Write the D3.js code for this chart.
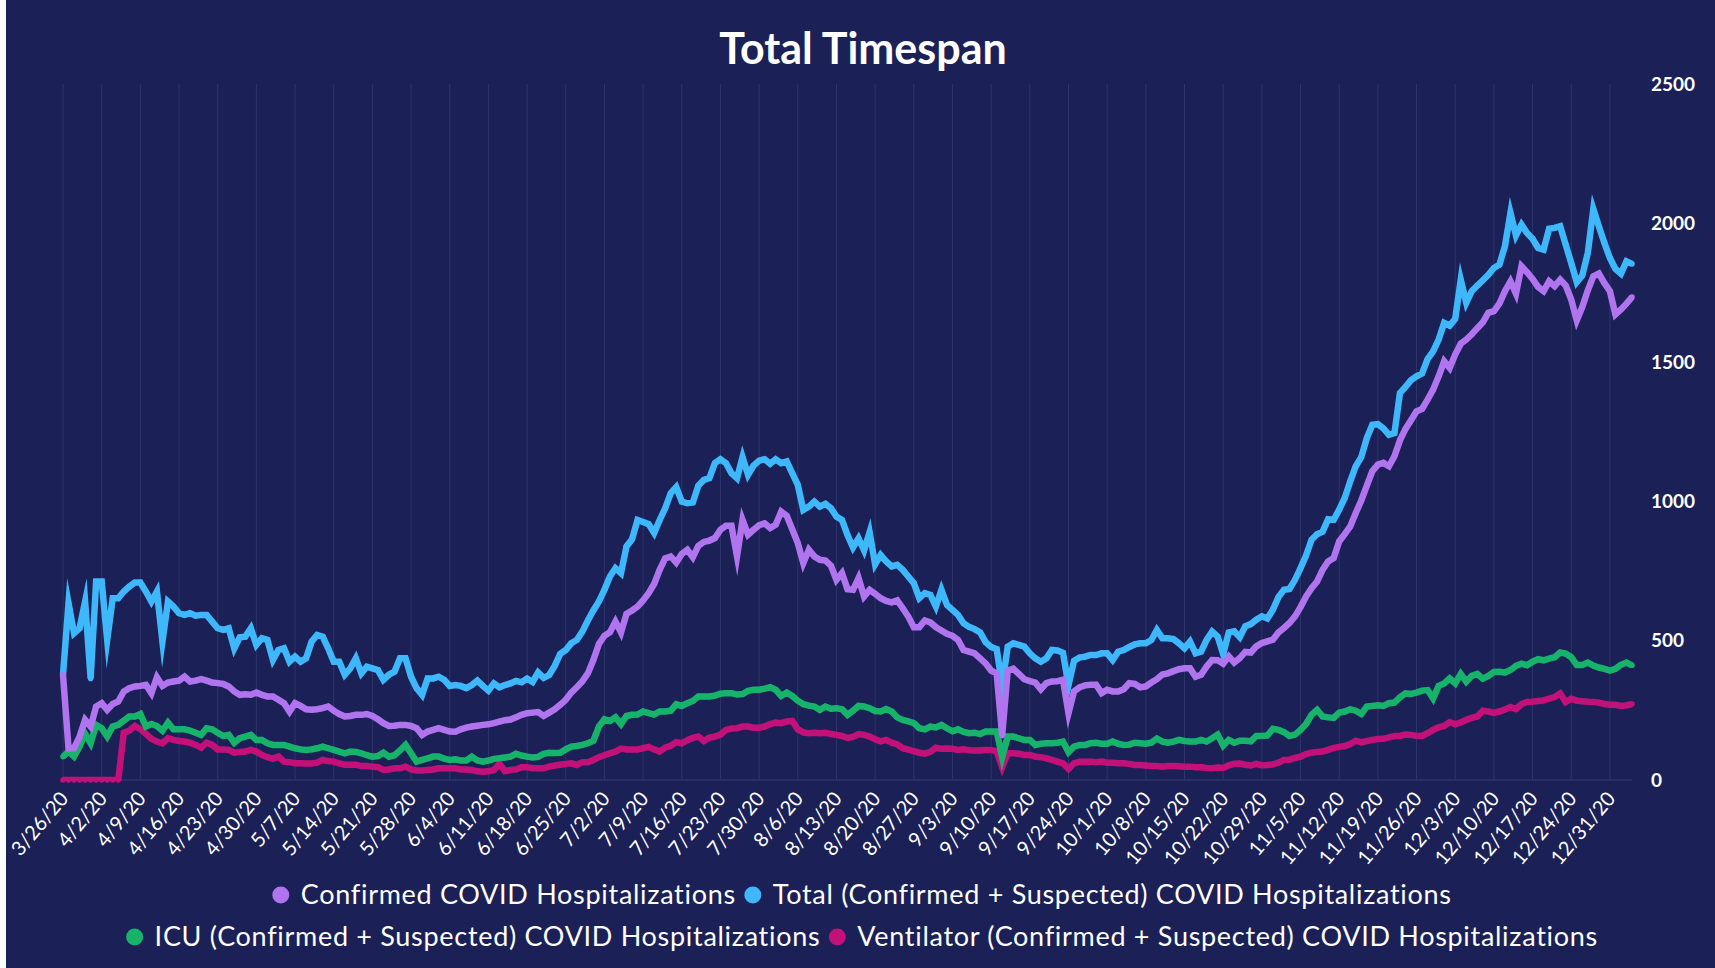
<!DOCTYPE html>
<html>
<head>
<meta charset="utf-8">
<script src="https://cdn.jsdelivr.net/npm/d3@7"></script>
<style>
  html, body { margin: 0; padding: 0; background: #ffffff; }
  svg { display: block; }
  text { font-family: Lato, "Open Sans", sans-serif; }
</style>
</head>
<body>
<svg id="chart"></svg>
<script>
// first day of the daily series (3/26/20), one value per day through 1/4/21
const startDay = "3/26/20";

const tickLabels = [
  "3/26/20", "4/2/20", "4/9/20", "4/16/20", "4/23/20", "4/30/20", "5/7/20",
  "5/14/20", "5/21/20", "5/28/20", "6/4/20", "6/11/20", "6/18/20", "6/25/20",
  "7/2/20", "7/9/20", "7/16/20", "7/23/20", "7/30/20", "8/6/20", "8/13/20",
  "8/20/20", "8/27/20", "9/3/20", "9/10/20", "9/17/20", "9/24/20", "10/1/20",
  "10/8/20", "10/15/20", "10/22/20", "10/29/20", "11/5/20", "11/12/20",
  "11/19/20", "11/26/20", "12/3/20", "12/10/20", "12/17/20", "12/24/20", "12/31/20"
];

const yTicks = [0, 500, 1000, 1500, 2000, 2500];

const confirmed = [
  378, 114, 114, 156, 216, 192, 264, 276, 252, 273,
  282, 318, 330, 336, 338, 342, 312, 369, 338, 350,
  354, 357, 371, 354, 357, 362, 357, 350, 348, 345,
  336, 318, 306, 308, 306, 314, 306, 300, 300, 288,
  276, 246, 276, 266, 254, 252, 254, 258, 264, 249,
  237, 228, 230, 234, 234, 237, 230, 218, 204, 194,
  195, 198, 198, 194, 186, 162, 174, 180, 186, 180,
  174, 173, 182, 188, 192, 195, 198, 200, 204, 210,
  215, 217, 225, 234, 240, 242, 244, 230, 242, 254,
  270, 288, 314, 333, 354, 383, 431, 489, 518, 531,
  569, 530, 597, 609, 623, 645, 671, 704, 755, 796,
  803, 781, 812, 827, 800, 841, 855, 860, 869, 899,
  913, 913, 803, 934, 881, 899, 915, 922, 905, 917,
  964, 949, 901, 851, 779, 827, 803, 791, 788, 770,
  719, 743, 685, 683, 725, 659, 683, 669, 653, 643,
  638, 645, 617, 587, 549, 549, 573, 566, 549, 537,
  525, 518, 503, 467, 461, 455, 437, 419, 393, 383,
  160, 393, 400, 381, 362, 355, 350, 326, 348, 354,
  355, 360, 240, 318, 333, 340, 342, 342, 312, 324,
  318, 318, 326, 348, 345, 333, 336, 350, 362, 379,
  383, 391, 398, 401, 401, 371, 378, 408, 431, 430,
  418, 444, 422, 438, 460, 458, 480, 492, 498, 504,
  530, 546, 564, 588, 621, 659, 689, 713, 755, 785,
  797, 857, 883, 911, 959, 1004, 1057, 1109, 1133, 1139,
  1127, 1163, 1220, 1261, 1292, 1324, 1333, 1366, 1402, 1450,
  1504, 1480, 1528, 1567, 1582, 1601, 1623, 1644, 1678, 1684,
  1711, 1756, 1791, 1747, 1845, 1824, 1800, 1771, 1756, 1791,
  1774, 1797, 1776, 1726, 1651, 1699, 1759, 1809, 1819, 1785,
  1756, 1672, 1690, 1711, 1735
];

const total = [
  378, 635, 527, 545, 641, 365, 713, 713, 503, 653,
  653, 677, 695, 709, 709, 677, 641, 677, 497, 641,
  623, 599, 593, 599, 590, 593, 593, 569, 545, 539,
  545, 473, 513, 515, 545, 485, 509, 503, 431, 467,
  473, 425, 443, 425, 437, 497, 521, 515, 473, 425,
  425, 378, 401, 437, 383, 407, 401, 395, 360, 378,
  389, 437, 437, 371, 330, 306, 365, 365, 371, 360,
  338, 341, 338, 330, 341, 357, 338, 321, 347, 333,
  341, 347, 356, 351, 364, 352, 386, 367, 377, 410,
  453, 467, 491, 503, 533, 573, 609, 641, 683, 731,
  761, 743, 839, 865, 934, 927, 919, 887, 934, 976,
  1030, 1052, 1000, 994, 997, 1057, 1078, 1084, 1138, 1152,
  1138, 1102, 1084, 1160, 1096, 1129, 1147, 1152, 1136, 1152,
  1138, 1144, 1102, 1060, 970, 982, 1000, 982, 992, 976,
  946, 934, 880, 835, 868, 825, 890, 775, 808, 785,
  767, 773, 755, 731, 707, 653, 671, 665, 623, 683,
  629, 611, 593, 563, 550, 542, 530, 495, 478, 470,
  340, 479, 491, 485, 479, 455, 437, 425, 437, 467,
  465, 457, 340, 428, 440, 443, 449, 449, 455, 455,
  431, 461, 467, 478, 487, 491, 491, 503, 539, 509,
  509, 506, 491, 473, 497, 455, 461, 503, 533, 515,
  452, 530, 534, 513, 552, 560, 576, 588, 580, 612,
  657, 683, 686, 719, 761, 806, 863, 883, 892, 937,
  935, 971, 1013, 1073, 1127, 1160, 1228, 1276, 1278, 1263,
  1240, 1246, 1390, 1412, 1436, 1450, 1460, 1512, 1540, 1582,
  1642, 1632, 1656, 1797, 1714, 1756, 1776, 1795, 1815, 1839,
  1851, 1917, 2037, 1956, 1995, 1965, 1944, 1911, 1905, 1980,
  1983, 1989, 1923, 1857, 1788, 1812, 1893, 2051, 1989, 1929,
  1875, 1836, 1819, 1863, 1854
];

const icu = [
  84, 102, 84, 120, 166, 132, 198, 186, 156, 192,
  198, 213, 228, 228, 237, 192, 201, 194, 177, 206,
  182, 182, 182, 177, 170, 162, 186, 182, 170, 158,
  162, 134, 150, 156, 162, 144, 144, 132, 126, 126,
  126, 120, 114, 110, 108, 110, 114, 120, 114, 108,
  102, 96, 102, 101, 96, 89, 84, 86, 98, 84,
  89, 106, 126, 96, 66, 72, 78, 84, 84, 77,
  72, 74, 70, 70, 84, 70, 66, 70, 76, 78,
  81, 84, 94, 88, 84, 81, 83, 94, 98, 97,
  98, 110, 120, 122, 126, 132, 141, 192, 218, 212,
  225, 201, 230, 234, 235, 246, 240, 235, 246, 246,
  249, 272, 266, 276, 284, 300, 300, 300, 303, 310,
  312, 312, 307, 309, 320, 324, 324, 328, 333, 324,
  302, 314, 302, 285, 272, 267, 264, 252, 264, 256,
  258, 254, 234, 249, 266, 264, 258, 248, 246, 255,
  246, 225, 216, 211, 204, 186, 182, 192, 189, 198,
  186, 175, 182, 173, 168, 170, 165, 174, 174, 174,
  82, 156, 156, 150, 144, 144, 126, 130, 132, 132,
  134, 138, 100, 120, 126, 126, 132, 134, 130, 130,
  138, 130, 126, 127, 134, 132, 130, 134, 149, 138,
  134, 138, 144, 140, 138, 138, 144, 138, 150, 163,
  124, 144, 134, 141, 141, 139, 158, 158, 160, 184,
  180, 172, 158, 163, 180, 201, 234, 252, 228, 225,
  223, 242, 246, 254, 249, 237, 264, 266, 268, 266,
  276, 278, 297, 311, 309, 314, 321, 323, 293, 338,
  347, 365, 347, 381, 353, 374, 381, 364, 374, 388,
  389, 386, 395, 410, 418, 412, 425, 434, 430, 436,
  441, 458, 454, 441, 413, 413, 422, 411, 404, 399,
  393, 399, 414, 422, 412
];

const ventilator = [
  0, 0, 0, 0, 0, 0, 0, 0, 0, 0,
  0, 170, 177, 194, 182, 166, 148, 138, 132, 150,
  144, 140, 138, 134, 126, 116, 134, 126, 110, 110,
  108, 98, 101, 102, 108, 102, 90, 82, 76, 84,
  66, 64, 60, 60, 59, 59, 62, 72, 68, 66,
  60, 55, 55, 55, 50, 50, 48, 46, 36, 38,
  42, 42, 48, 38, 34, 34, 36, 38, 42, 42,
  42, 42, 38, 38, 36, 31, 30, 31, 36, 58,
  32, 36, 38, 46, 46, 42, 42, 42, 48, 52,
  55, 58, 60, 54, 64, 64, 72, 82, 89, 96,
  102, 113, 110, 110, 110, 114, 119, 110, 102, 116,
  123, 136, 132, 143, 151, 156, 140, 152, 156, 163,
  180, 185, 186, 192, 192, 188, 188, 192, 201, 206,
  204, 210, 212, 182, 171, 168, 170, 168, 170, 165,
  162, 158, 151, 155, 165, 162, 156, 146, 139, 144,
  134, 128, 114, 109, 104, 98, 95, 101, 116, 112,
  113, 112, 108, 110, 107, 106, 106, 108, 108, 103,
  46, 96, 96, 94, 90, 90, 84, 82, 78, 72,
  66, 60, 40, 60, 66, 66, 66, 64, 66, 62,
  62, 60, 60, 58, 54, 54, 52, 50, 50, 48,
  50, 50, 49, 48, 48, 46, 46, 43, 42, 45,
  43, 53, 58, 59, 55, 52, 58, 53, 54, 56,
  62, 72, 73, 79, 84, 93, 98, 101, 102, 108,
  115, 119, 122, 129, 141, 135, 140, 144, 147, 148,
  153, 158, 158, 163, 162, 158, 158, 168, 180, 189,
  194, 208, 200, 207, 216, 223, 228, 249, 246, 241,
  246, 253, 262, 255, 273, 280, 281, 284, 286, 292,
  298, 311, 280, 292, 285, 283, 281, 280, 278, 273,
  270, 270, 266, 268, 273
];

const seriesNames = [
  "Confirmed COVID Hospitalizations",
  "Total (Confirmed + Suspected) COVID Hospitalizations",
  "ICU (Confirmed + Suspected) COVID Hospitalizations",
  "Ventilator (Confirmed + Suspected) COVID Hospitalizations"
];
const seriesColors = ["#b174ef", "#3eb8fa", "#17b36b", "#c3117a"];
const seriesValues = [confirmed, total, icu, ventilator];

const W = 1715, H = 968;
const margin = { top: 84, right: 85, bottom: 188, left: 63 };
const bg = "#1b2056";

const parseDay = d3.utcParse("%m/%d/%y");
const day0 = parseDay(startDay);
const dates = confirmed.map((_, i) => d3.utcDay.offset(day0, i));

const svg = d3.select("#chart").attr("width", W).attr("height", H);

svg.append("rect")
  .attr("x", 6).attr("y", 0)
  .attr("width", W - 6).attr("height", H)
  .attr("fill", bg);

const x = d3.scaleUtc()
  .domain([dates[0], dates[dates.length - 1]])
  .range([margin.left, W - margin.right + 2]);

const y = d3.scaleLinear()
  .domain([0, 2500])
  .range([H - margin.bottom, margin.top]);

const tickDates = tickLabels.map(parseDay);

// vertical grid lines at each labelled week
svg.append("g")
  .selectAll("line")
  .data(tickDates)
  .enter()
  .append("line")
  .attr("x1", (d) => x(d)).attr("x2", (d) => x(d))
  .attr("y1", y(2500)).attr("y2", y(0))
  .attr("stroke", "#2e356a")
  .attr("stroke-width", 1);

// baseline
svg.append("line")
  .attr("x1", x.range()[0]).attr("x2", x.range()[1])
  .attr("y1", y(0)).attr("y2", y(0))
  .attr("stroke", "#2e356a")
  .attr("stroke-width", 1.5);

// x axis labels
const xAxis = svg.append("g")
  .attr("transform", `translate(0,${y(0)})`)
  .call(d3.axisBottom(x).tickValues(tickDates).tickSize(0)
    .tickFormat((d, i) => tickLabels[i]));
xAxis.select(".domain").remove();
xAxis.selectAll("text")
  .attr("fill", "#ffffff")
  .attr("font-size", 20)
  .attr("font-family", "Lato, sans-serif")
  .attr("text-anchor", "end")
  .attr("y", 0).attr("dy", 0)
  .attr("transform", "translate(6,19) rotate(-50)");

// y axis on the right
const yAxis = svg.append("g")
  .attr("transform", `translate(${W - 64},0)`)
  .call(d3.axisRight(y).tickValues(yTicks).tickSize(0).tickFormat(d3.format("d")));
yAxis.select(".domain").remove();
yAxis.selectAll("text")
  .attr("fill", "#ffffff")
  .attr("font-size", 19)
  .attr("font-weight", 700)
  .attr("font-family", "Lato, sans-serif")
  .attr("x", 0)
  .attr("text-anchor", "start");

// clip for the lines
svg.append("defs").append("clipPath").attr("id", "plot")
  .append("rect")
  .attr("x", x.range()[0] - 10).attr("y", 0)
  .attr("width", x.range()[1] - x.range()[0] + 20)
  .attr("height", y(0) + 1);

const line = d3.line()
  .x((d, i) => x(dates[i]))
  .y((d) => y(d));

// first series drawn last (on top)
const order = [3, 2, 1, 0];
const plot = svg.append("g");
order.forEach((k) => {
  plot.append("path")
    .datum(seriesValues[k])
    .attr("d", line)
    .attr("fill", "none")
    .attr("stroke", seriesColors[k])
    .attr("stroke-width", 6.5)
    .attr("stroke-linejoin", "miter")
    .attr("stroke-miterlimit", 10)
    .attr("clip-path", "url(#plot)");
  plot.append("g")
    .selectAll("circle")
    .data(seriesValues[k])
    .enter()
    .append("circle")
    .attr("cx", (d, i) => x(dates[i]))
    .attr("cy", (d) => y(d))
    .attr("r", 2.8)
    .attr("fill", seriesColors[k]);
});

// title
svg.append("text")
  .attr("x", 863).attr("y", 64)
  .attr("text-anchor", "middle")
  .attr("fill", "#ffffff")
  .attr("font-size", 43)
  .attr("font-weight", 700)
  .text("Total Timespan");

// legend, two centred rows
const legendRows = [[0, 1], [2, 3]];
const legendY = [895, 937];
const legendFont = 27;
legendRows.forEach((row, r) => {
  const g = svg.append("g");
  let cx = 0;
  row.forEach((k, j) => {
    g.append("circle")
      .attr("cx", cx).attr("cy", 0).attr("r", 8.5)
      .attr("fill", seriesColors[k]);
    const t = g.append("text")
      .attr("x", cx + 20).attr("y", 0).attr("dy", "0.35em")
      .attr("fill", "#ffffff")
      .attr("font-size", legendFont)
      .attr("letter-spacing", 0.7)
      .text(seriesNames[k]);
    cx += 20 + t.node().getComputedTextLength() + 17;
  });
  const rowW = cx - 17 + 8.5;
  g.attr("transform", `translate(${862 - rowW / 2 + 8.5},${legendY[r]})`);
});
</script>
</body>
</html>
